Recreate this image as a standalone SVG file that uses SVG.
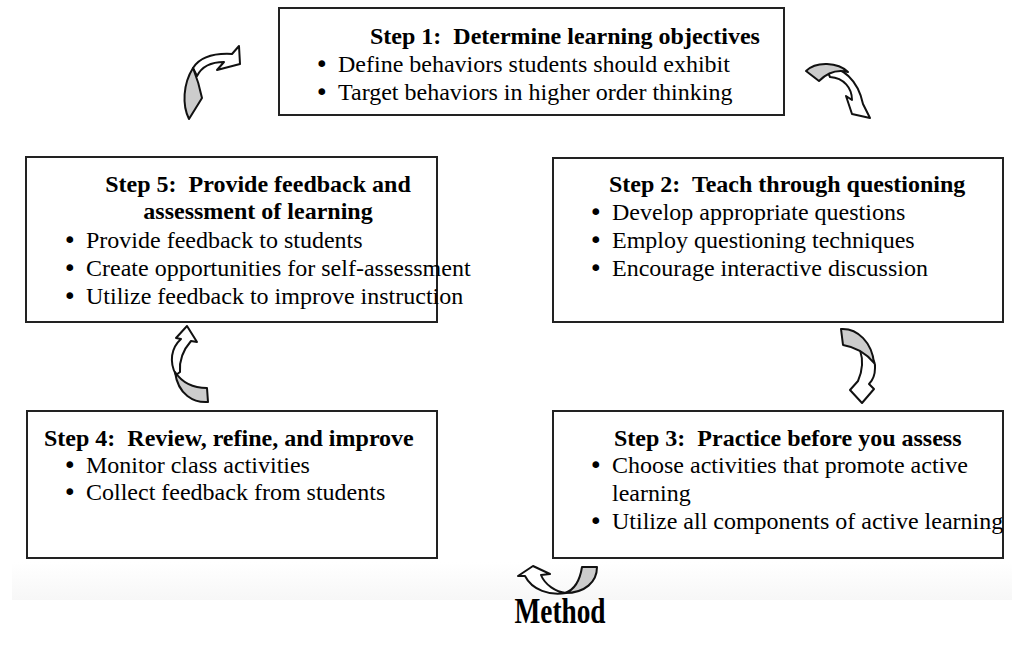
<svg xmlns="http://www.w3.org/2000/svg" width="1012" height="653" viewBox="0 0 1012 653">
  <style>
    .box { fill: #ffffff; stroke: #222222; stroke-width: 2; }
    text { font-family: 'Liberation Serif', 'Times New Roman', 'DejaVu Serif', serif; fill: #000000; }
    .title { font-size: 24px; font-weight: bold; }
    .item { font-size: 24px; }
    .dot { font-family: 'DejaVu Sans', sans-serif; font-size: 23px; }
    .front { fill: #ffffff; stroke: #111111; stroke-width: 2; stroke-linejoin: round; }
    .back { fill: #cccccc; stroke: #111111; stroke-width: 2; stroke-linejoin: round; }
    .caption { font-size: 36px; font-weight: bold; }
  </style>
  <defs>
    <linearGradient id="haze" x1="0" y1="0" x2="0" y2="1">
      <stop offset="0" stop-color="#ffffff"/>
      <stop offset="1" stop-color="#f7f7f7"/>
    </linearGradient>
  </defs>

  <rect width="1012" height="653" fill="#ffffff"/>
  <rect x="12" y="562" width="1000" height="38" fill="url(#haze)"/>

  <!-- Step 1 -->
  <g id="step1">
    <rect class="box" x="279" y="8" width="505" height="107"/>
    <text class="title" x="370" y="44" xml:space="preserve">Step 1:  Determine learning objectives</text>
    <text class="item" x="315" y="72"><tspan class="dot">•</tspan><tspan x="338">Define behaviors students should exhibit</tspan></text>
    <text class="item" x="315" y="100"><tspan class="dot">•</tspan><tspan x="338">Target behaviors in higher order thinking</tspan></text>
  </g>

  <!-- Step 2 -->
  <g id="step2">
    <rect class="box" x="553" y="158" width="450" height="164"/>
    <text class="title" x="609" y="192" xml:space="preserve">Step 2:  Teach through questioning</text>
    <text class="item" x="589" y="220"><tspan class="dot">•</tspan><tspan x="612">Develop appropriate questions</tspan></text>
    <text class="item" x="589" y="248"><tspan class="dot">•</tspan><tspan x="612">Employ questioning techniques</tspan></text>
    <text class="item" x="589" y="276"><tspan class="dot">•</tspan><tspan x="612">Encourage interactive discussion</tspan></text>
  </g>

  <!-- Step 3 -->
  <g id="step3">
    <rect class="box" x="553" y="411" width="450" height="147"/>
    <text class="title" x="614" y="446" xml:space="preserve">Step 3:  Practice before you assess</text>
    <text class="item" x="589" y="473"><tspan class="dot">•</tspan><tspan x="612">Choose activities that promote active</tspan></text>
    <text class="item" x="612" y="501">learning</text>
    <text class="item" x="589" y="529"><tspan class="dot">•</tspan><tspan x="612">Utilize all components of active learning</tspan></text>
  </g>

  <!-- Step 4 -->
  <g id="step4">
    <rect class="box" x="27" y="411" width="410" height="147"/>
    <text class="title" x="44" y="446" xml:space="preserve">Step 4:  Review, refine, and improve</text>
    <text class="item" x="63" y="473"><tspan class="dot">•</tspan><tspan x="86">Monitor class activities</tspan></text>
    <text class="item" x="63" y="500"><tspan class="dot">•</tspan><tspan x="86">Collect feedback from students</tspan></text>
  </g>

  <!-- Step 5 -->
  <g id="step5">
    <rect class="box" x="26" y="157" width="411" height="165"/>
    <text class="title" x="258" y="192" text-anchor="middle" xml:space="preserve">Step 5:  Provide feedback and</text>
    <text class="title" x="258" y="219" text-anchor="middle">assessment of learning</text>
    <text class="item" x="63" y="248"><tspan class="dot">•</tspan><tspan x="86">Provide feedback to students</tspan></text>
    <text class="item" x="63" y="276"><tspan class="dot">•</tspan><tspan x="86">Create opportunities for self-assessment</tspan></text>
    <text class="item" x="63" y="304"><tspan class="dot">•</tspan><tspan x="86">Utilize feedback to improve instruction</tspan></text>
  </g>

  <!-- curved block arrows between the steps -->
  <g id="connectors">
    <!-- Step 5 to Step 1 -->
    <path class="front" d="M193,68 C200,57 213,53 232,54 L239,46 L240,64 L217,70 L224,62 C212,62 202,66 197,76 Z"/>
    <path class="back" d="M189,119 C182,105 183,84 193,68 C197,78 200,88 202,98 Z"/>
    <!-- Step 1 to Step 2 -->
    <path class="front" d="M826,68 C842,66 858,80 863,104 L870,118 L852,114 L846,96 L852,100 C852,88 844,78 830,77 Z"/>
    <path class="back" d="M806,71 C816,61 838,62 848,72 C836,69 826,74 819,81 Z"/>
    <!-- Step 2 to Step 3 -->
    <path class="front" d="M860,350 C868,352 876,360 875,368 C875,376 872,381 869,384 L874,389 L862,403 L850,390 L858,381 C862,372 864,362 860,350 Z"/>
    <path class="back" d="M841,329 C858,328 872,343 874,363 C866,353 855,347 843,345 Z"/>
    <!-- Step 3 to Step 4 -->
    <path class="front" d="M566,593 C550,596 532,590 525,576 L518,576 L533,566 L550,574 L541,575 C545,585 556,592 566,593 Z"/>
    <path class="back" d="M582,567 L597,567 C597,582 585,593 565,593 C574,590 580,580 582,567 Z"/>
    <!-- Step 4 to Step 5 -->
    <path class="front" d="M176,375 C169,362 171,348 181,339 L176,338 L187,326 L197,342 L191,341 C184,349 179,360 180,372 Z"/>
    <path class="back" d="M207,388 L208,402 C194,403 178,395 175,372 C183,384 195,388 207,388 Z"/>
  </g>

  <text class="caption" x="560" y="623" text-anchor="middle" textLength="91" lengthAdjust="spacingAndGlyphs">Method</text>
</svg>
